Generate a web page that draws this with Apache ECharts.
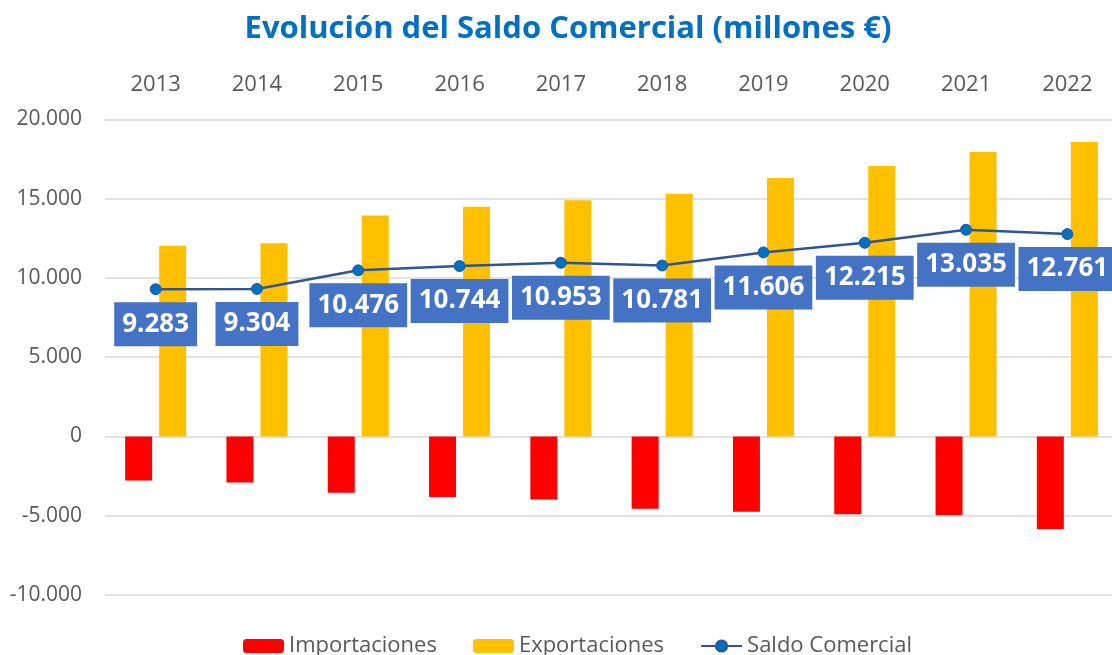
<!DOCTYPE html>
<html>
<head>
<meta charset="utf-8">
<script src="https://cdn.jsdelivr.net/npm/echarts@6/dist/echarts.min.js"></script>
<style>
  html, body { margin: 0; padding: 0; background: #fff; }
  #myChart { width: 1112px; height: 655px; }
</style>
</head>
<body>
<div id="myChart"></div>
<script>
  // datos
  var anios = ['2013', '2014', '2015', '2016', '2017', '2018', '2019', '2020', '2021', '2022']
  var importaciones = [-2780, -2900, -3550, -3820, -3980, -4560, -4750, -4900, -4960, -5840]
  var exportaciones = [12030, 12190, 13940, 14480, 14900, 15300, 16300, 17060, 17940, 18570]
  var saldo = [9283, 9304, 10476, 10744, 10953, 10781, 11606, 12215, 13035, 12761]

  var fuente = '"Open Sans", "Noto Sans", sans-serif'

  function miles(v) {
    var s = String(Math.abs(v)).replace(/\B(?=(\d{3})+(?!\d))/g, '.')
    return (v < 0 ? '-' : '') + s
  }

  var myChart = echarts.init(document.getElementById('myChart'))
  myChart.setOption({
    animation: false,
    title: {
      text: 'Evolución del Saldo Comercial (millones €)',
      left: 568,
      top: 14,
      padding: 0,
      textAlign: 'center',
      textStyle: {
        color: '#0070C0',
        fontFamily: fuente,
        fontWeight: 'bold',
        fontSize: 31
      }
    },
    legend: {
      top: 630,
      left: 238,
      itemWidth: 41,
      itemHeight: 14,
      itemGap: 36,
      textStyle: {
        color: '#595959',
        fontFamily: fuente,
        fontSize: 22
      },
      data: ['Importaciones', 'Exportaciones', 'Saldo Comercial']
    },
    grid: {
      left: 105,
      right: -6,
      top: 119.3,
      bottom: 60,
      containLabel: false,
      outerBoundsMode: 'none'
    },
    xAxis: {
      type: 'category',
      position: 'top',
      data: anios,
      axisLine: { show: false },
      axisTick: { show: false },
      axisLabel: {
        margin: 24,
        color: '#595959',
        fontFamily: fuente,
        fontSize: 22
      }
    },
    yAxis: {
      type: 'value',
      min: -10000,
      max: 20000,
      interval: 5000,
      axisLine: { show: false },
      axisTick: { show: false },
      splitLine: {
        lineStyle: { color: '#D9D9D9', width: 1.5 }
      },
      axisLabel: {
        margin: 23,
        color: '#595959',
        fontFamily: fuente,
        fontSize: 21,
        formatter: miles
      }
    },
    series: [
      {
        name: 'Importaciones',
        type: 'bar',
        data: importaciones,
        barWidth: 27,
        barGap: '26%',
        itemStyle: { color: '#FF0000' }
      },
      {
        name: 'Exportaciones',
        type: 'bar',
        data: exportaciones,
        barWidth: 27,
        itemStyle: { color: '#FFC000' }
      },
      {
        name: 'Saldo Comercial',
        type: 'line',
        data: saldo,
        z: 5,
        symbol: 'circle',
        symbolSize: 11,
        lineStyle: { color: '#2F5597', width: 2.5 },
        itemStyle: { color: '#0070C0', borderColor: '#2F5597', borderWidth: 1 },
        label: {
          show: true,
          position: 'bottom',
          distance: 7,
          backgroundColor: '#4472C4',
          padding: [7, 8],
          lineHeight: 30,
          color: '#fff',
          fontFamily: fuente,
          fontWeight: 'bold',
          fontSize: 26,
          formatter: function (p) { return miles(p.value) }
        }
      }
    ]
  })
</script>
</body>
</html>
